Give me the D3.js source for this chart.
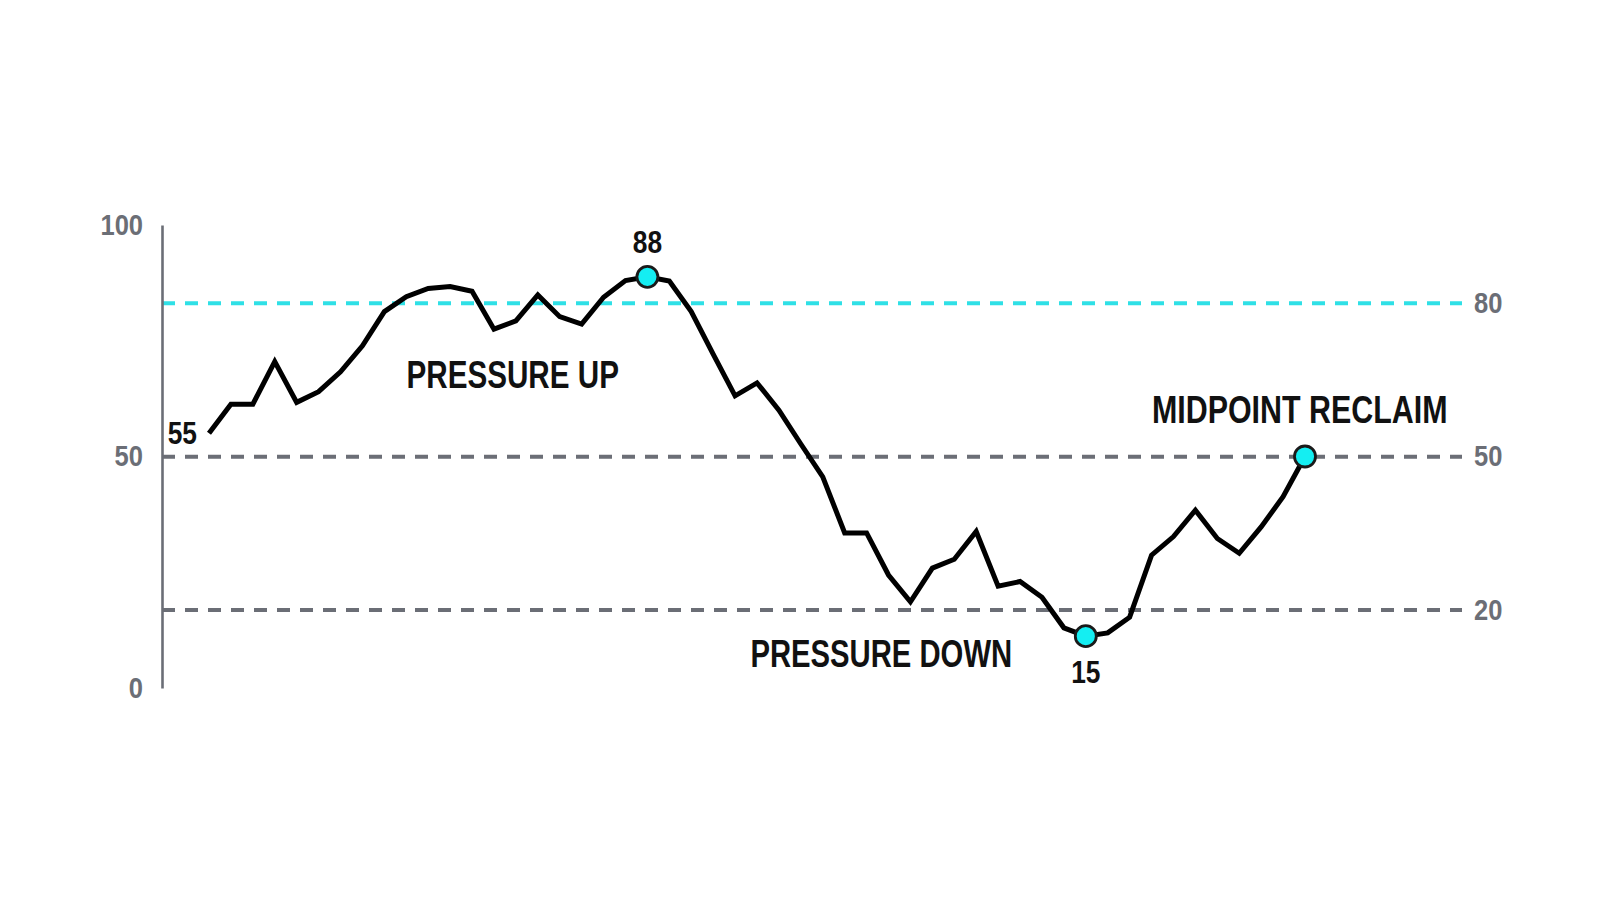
<!DOCTYPE html>
<html>
<head>
<meta charset="utf-8">
<script src="https://cdn.jsdelivr.net/npm/d3@7"></script>
<style>
  html, body { margin: 0; padding: 0; background: #fff; }
  svg text { font-family: "Liberation Sans", Arial, sans-serif; font-weight: bold; }
</style>
</head>
<body>
<div id="chart"></div>
<script>
'use strict';

// pressure reading, one value per step
var values = [
    55, 61.3, 61.3, 70.5, 61.7, 64.0, 68.3, 73.9, 81.3, 84.5,
    86.3, 86.7, 85.7, 77.5, 79.3, 84.9, 80.2, 78.6, 84.4, 88.0,
    88.8, 87.9, 81.3, 72.1, 63.1, 65.9, 60.0, 52.7, 45.6, 33.5,
    33.5, 24.4, 18.6, 25.9, 27.8, 33.8, 22.0, 23.0, 19.6, 13.0,
    11.2, 11.9, 15.3, 28.7, 32.7, 38.4, 32.3, 29.1, 34.8, 41.3,
    50.0
];

var leftTicks = [0, 50, 100];
var levels = [80, 50, 20];
var levelColors = ["#2fe0e6", "#6b6e76", "#6b6e76"];

var markerIndex = [20, 40, 50];
var valueLabelIndex = [0, 20, 40];
var valueLabels = ["55", "88", "15"];

var phaseLabels = ["PRESSURE UP", "PRESSURE DOWN", "MIDPOINT RECLAIM"];
var phaseAt = [[18.7, 64.9], [24.7, 4.5], [56.5, 57.3]];   // [step, value] of each label
var phaseAnchor = ["end", "start", "end"];

var width = 1600, height = 914;
var margin = { top: 225, bottom: 226, left: 162, right: 138 };
var phaseSqueeze = [0.78, 0.77, 0.8];   // the labels use a condensed face

var svg = d3.select("#chart").append("svg")
    .attr("width", width)
    .attr("height", height);

var x = d3.scaleLinear()
    .domain([0, values.length - 1])
    .range([209, 1305]);
var y = d3.scaleLinear()
    .domain([0, 100])
    .range([height - margin.bottom, margin.top]);
// the reference levels sit on their own scale at the right
var yRight = d3.scaleLinear()
    .domain([20, 80])
    .range([610, 303.3]);

function squeeze(px, py, k) {
    return "translate(" + px + "," + py + ") scale(" + k + ",1)";
}

// reference lines
svg.selectAll(".level")
    .data(levels)
    .enter().append("line")
    .attr("class", "level")
    .attr("x1", margin.left)
    .attr("x2", width - margin.right)
    .attr("y1", function (d) { return yRight(d); })
    .attr("y2", function (d) { return yRight(d); })
    .attr("stroke", function (d, i) { return levelColors[i]; })
    .attr("stroke-width", 4)
    .attr("stroke-dasharray", "13,10");

// left axis
var leftAxis = svg.append("g")
    .attr("transform", "translate(" + margin.left + ",0)")
    .call(d3.axisLeft(y).tickValues(leftTicks).tickSize(0));
leftAxis.select(".domain").attr("stroke", "#6b6e76").attr("stroke-width", 2.6);
leftAxis.selectAll("text")
    .attr("x", null)
    .attr("transform", squeeze(-19, 0, 0.88))
    .attr("fill", "#6b6e76")
    .style("font-size", "29px");

// right labels for the levels
var rightAxis = svg.append("g")
    .attr("transform", "translate(" + (width - margin.right) + ",0)")
    .call(d3.axisRight(yRight).tickValues(levels).tickSize(0));
rightAxis.select(".domain").remove();
rightAxis.selectAll("text")
    .attr("x", null)
    .attr("transform", squeeze(12, 0, 0.88))
    .attr("fill", "#6b6e76")
    .style("font-size", "29px");

// the line
var line = d3.line()
    .x(function (d, i) { return x(i); })
    .y(function (d) { return y(d); });

svg.append("path")
    .datum(values)
    .attr("fill", "none")
    .attr("stroke", "#000")
    .attr("stroke-width", 5)
    .attr("d", line);

// highlighted points
svg.selectAll(".marker")
    .data(markerIndex)
    .enter().append("circle")
    .attr("class", "marker")
    .attr("cx", function (d) { return x(d); })
    .attr("cy", function (d) { return y(values[d]); })
    .attr("r", 10.5)
    .attr("fill", "#14eef2")
    .attr("stroke", "#1a1a1a")
    .attr("stroke-width", 2.8);

// value labels
svg.selectAll(".vlabel")
    .data(valueLabelIndex)
    .enter().append("text")
    .attr("class", "vlabel")
    .attr("transform", function (d, i) {
        var px = i === 0 ? x(d) - 12 : x(d);
        var py = y(values[d]) + (i === 0 ? 11 : i === 1 ? -24 : 47);
        return squeeze(px, py, 0.85);
    })
    .attr("text-anchor", function (d, i) { return i === 0 ? "end" : "middle"; })
    .style("font-size", "31px")
    .attr("fill", "#111")
    .text(function (d, i) { return valueLabels[i]; });

// phase labels
svg.selectAll(".plabel")
    .data(phaseLabels)
    .enter().append("text")
    .attr("class", "plabel")
    .attr("transform", function (d, i) {
        return squeeze(x(phaseAt[i][0]), y(phaseAt[i][1]), phaseSqueeze[i]);
    })
    .attr("text-anchor", function (d, i) { return phaseAnchor[i]; })
    .style("font-size", "38px")
    .attr("fill", "#111")
    .text(function (d) { return d; });
</script>
</body>
</html>
